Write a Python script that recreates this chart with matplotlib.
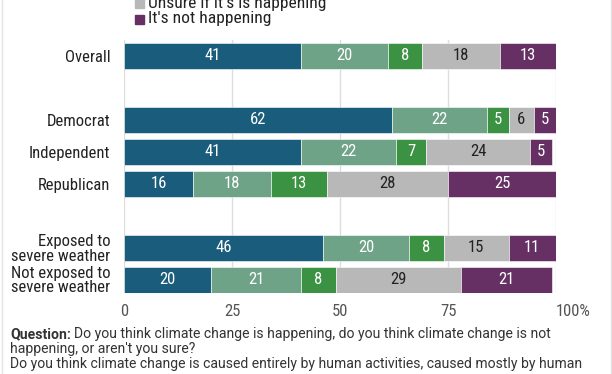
import matplotlib
matplotlib.use("Agg")
import matplotlib.pyplot as plt
from matplotlib.lines import Line2D
from matplotlib.patches import Rectangle
import numpy as np

groups = ["Overall", "Democrat", "Independent", "Republican",
          "Exposed to\nsevere weather", "Not exposed to\nsevere weather"]
ypos = [0, 2, 3, 4, 6, 7]

human = [41, 62, 41, 16, 46, 20]
mostly = [20, 22, 22, 18, 20, 21]
natural = [8, 5, 7, 13, 8, 8]
unsure = [18, 6, 24, 28, 15, 29]
not_happening = [13, 5, 5, 25, 11, 21]

series = [human, mostly, natural, unsure, not_happening]
colors = ["#1a5c7b", "#6fa388", "#3b9243", "#b8b8b8", "#663064"]
text_colors = ["white", "white", "white", "#222222", "white"]

legend_labels = ["Unsure if it's is happening", "It's not happening"]
legend_colors = ["#b8b8b8", "#663064"]

xticks = [0, 25, 50, 75, 100]
xticklabels = ["0", "25", "50", "75", "100%"]

fam = ["Roboto Condensed", "Roboto", "DejaVu Sans"]
plt.rcParams['font.family'] = fam

fig = plt.figure(figsize=(6.12, 3.74), dpi=100)
fig.patch.set_facecolor('white')
ax = fig.add_axes([124.3 / 612, 1 - 293 / 374, (556 - 124.3) / 612, (293 - 40) / 374])

left = np.zeros(len(groups))
for vals, c, tc in zip(series, colors, text_colors):
    vals = np.array(vals, dtype=float)
    ax.barh(ypos, vals, left=left, height=0.81, color=c, edgecolor='white',
            linewidth=0.4, zorder=3)
    for y, l, v in zip(ypos, left, vals):
        ax.text(l + v / 2, y, "%d" % v, ha='center', va='center',
                color=tc, fontsize=12, zorder=4)
    left += vals

ax.set_xlim(0, 100)
ax.set_ylim(7.42, -0.5)
ax.set_yticks(ypos)
ax.set_yticklabels(groups, fontsize=12, color='#222222', linespacing=0.95)
ax.set_xticks(xticks)
ax.set_xticklabels(xticklabels, fontsize=12, color='#555555')
ax.tick_params(axis='both', length=0)
ax.tick_params(axis='y', pad=10)
ax.tick_params(axis='x', pad=8)
for s in ax.spines.values():
    s.set_visible(False)
ax.grid(axis='x', color='#dddddd', linewidth=1, zorder=0)
ax.set_axisbelow(True)
# nudge the 100% label so the number sits on the gridline
lab = ax.get_xticklabels()[-1]
lab.set_horizontalalignment('left')
lab.set_x(97.4)

# legend (top entries fall off the canvas)
for i, (lbl, c) in enumerate(zip(legend_labels, legend_colors)):
    yc = 374 - (3 + 16 * i)
    fig.add_artist(Rectangle((135 / 612, (yc - 4.5) / 374), 9 / 612, 9 / 374,
                             transform=fig.transFigure, color=c))
    fig.text(148 / 612, yc / 374, lbl, ha='left', va='center', fontsize=12.6,
             color='#222222')

# frame lines
fig.add_artist(Line2D([1.5 / 612, 1.5 / 612], [0, 1], transform=fig.transFigure,
                      color='#e4e4e4', linewidth=1))
fig.add_artist(Line2D([610.5 / 612, 610.5 / 612], [0, 1], transform=fig.transFigure,
                      color='#e4e4e4', linewidth=1))

# footnote
foot = dict(fontsize=10.1, color='#333333', va='center', family=["Roboto", "DejaVu Sans"])
q = fig.text(10 / 612, 1 - 334 / 374, "Question:", fontweight='bold', **foot)
fig.canvas.draw()
bb = q.get_window_extent()
fig.text((bb.x1 + 3) / 612, 1 - 334 / 374,
         "Do you think climate change is happening, do you think climate change is not", **foot)
fig.text(10 / 612, 1 - 349 / 374, "happening, or aren't you sure?", **foot)
fig.text(10 / 612, 1 - 364 / 374,
         "Do you think climate change is caused entirely by human activities, caused mostly by human",
         **foot)

fig.savefig("out.png", dpi=100)
